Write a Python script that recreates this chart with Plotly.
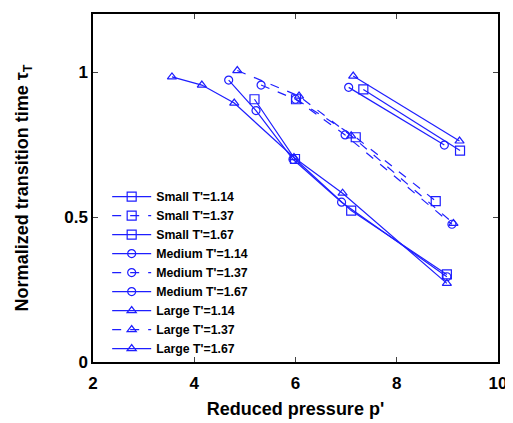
import plotly.graph_objects as go

# Data
small_114_x = [5.19, 5.99, 7.10, 8.99]
small_114_y = [0.906, 0.700, 0.522, 0.302]
small_137_x = [6.01, 7.19, 8.77]
small_137_y = [0.906, 0.775, 0.555]
small_167_x = [7.34, 9.25]
small_167_y = [0.940, 0.729]

medium_114_x = [4.68, 5.22, 5.95, 6.91, 8.99]
medium_114_y = [0.972, 0.867, 0.699, 0.551, 0.294]
medium_137_x = [5.32, 6.00, 6.98, 9.09]
medium_137_y = [0.955, 0.906, 0.783, 0.475]
medium_167_x = [7.05, 8.94]
medium_167_y = [0.947, 0.748]

large_114_x = [3.56, 4.15, 4.79, 5.97, 6.93, 8.99]
large_114_y = [0.983, 0.955, 0.893, 0.705, 0.582, 0.271]
large_137_x = [4.85, 6.07, 7.10, 9.12]
large_137_y = [1.005, 0.917, 0.780, 0.478]
large_167_x = [7.14, 9.24]
large_167_y = [0.986, 0.762]

x_ticks = [2, 4, 6, 8, 10]
y_ticks = [0, 0.5, 1]
y_tick_labels = ["0", "0.5", "1"]

series = [
    ("Small T'=1.14", small_114_x, small_114_y, "square-open", "solid", 9),
    ("Small T'=1.37", small_137_x, small_137_y, "square-open", "dash", 9),
    ("Small T'=1.67", small_167_x, small_167_y, "square-open", "solid", 9),
    ("Medium T'=1.14", medium_114_x, medium_114_y, "circle-open", "solid", 8),
    ("Medium T'=1.37", medium_137_x, medium_137_y, "circle-open", "dash", 8),
    ("Medium T'=1.67", medium_167_x, medium_167_y, "circle-open", "solid", 8),
    ("Large T'=1.14", large_114_x, large_114_y, "triangle-up-open", "solid", 8),
    ("Large T'=1.37", large_137_x, large_137_y, "triangle-up-open", "dash", 8),
    ("Large T'=1.67", large_167_x, large_167_y, "triangle-up-open", "solid", 8),
]

blue = "rgb(30,30,255)"
fig = go.Figure()
for name, xs, ys, sym, dash, sz in series:
    fig.add_trace(go.Scatter(
        x=xs, y=ys, name=name, mode="lines+markers",
        line=dict(color=blue, width=1.2, dash=dash),
        marker=dict(symbol=sym, size=sz, color=blue, line=dict(width=1.2, color=blue)),
    ))

font_fam = "Liberation Sans, Arial, Helvetica, sans-serif"
fig.update_layout(
    width=505, height=415,
    margin=dict(l=85, r=15, t=6, b=61),
    paper_bgcolor="white", plot_bgcolor="white",
    font=dict(family=font_fam, color="black", size=16, weight="bold"),
    showlegend=True,
    legend=dict(
        x=0.035, y=-0.003, xanchor="left", yanchor="bottom",
        bgcolor="rgba(255,255,255,0)", borderwidth=0,
        font=dict(size=12.3, family=font_fam, weight="bold"),
        tracegroupgap=0, itemwidth=39,
    ),
    xaxis=dict(
        range=[2, 10], tickvals=x_ticks, ticks="inside", ticklen=5,
        showline=True, linecolor="black", linewidth=1.5, mirror="ticks",
        showgrid=False, zeroline=False, automargin=False, ticklabelstandoff=5,
        title=dict(text="Reduced pressure p'", font=dict(size=18, weight="bold"), standoff=10),
        tickfont=dict(size=17, weight="bold"),
    ),
    yaxis=dict(
        range=[0, 1.2], tickvals=y_ticks, ticktext=y_tick_labels, ticks="inside", ticklen=5,
        showline=True, linecolor="black", linewidth=1.5, mirror="ticks",
        showgrid=False, zeroline=False, automargin=False,
        title=dict(text="Normalized transition time τ<sub>T</sub>", font=dict(size=18, weight="bold"), standoff=31),
        tickfont=dict(size=17, weight="bold"),
    ),
)

fig.write_html("out.html")
